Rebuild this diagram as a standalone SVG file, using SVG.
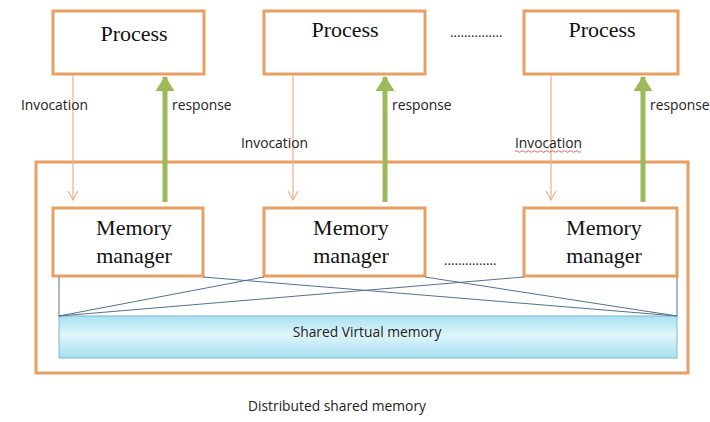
<svg xmlns="http://www.w3.org/2000/svg" width="710" height="422" viewBox="0 0 710 422">
<style>
.box{fill:#fff;stroke:#e7a063;stroke-width:3}
.outer{fill:none;stroke:#e7a063;stroke-width:3}
.tt{font-family:"Liberation Serif","Times New Roman",serif;font-size:22px;fill:#111;text-anchor:middle}
.lbl{font-family:"Open Sans","Liberation Sans",sans-serif;font-size:13.8px;fill:#222}
.inv{stroke:#eab08a;stroke-width:1.2;fill:none}
.resp{stroke:#9bbb59;stroke-width:5;fill:none}
.net{stroke:#56708e;stroke-width:1;fill:none}
.dots{font-family:"Liberation Serif",serif;font-size:14px;fill:#222}
</style>
<defs>
<marker id="open" markerWidth="12" markerHeight="12" refX="10" refY="6" orient="auto" markerUnits="userSpaceOnUse">
<path d="M1,1 L10,6 L1,11" fill="none" stroke="#eab08a" stroke-width="1.2"/>
</marker>
<marker id="fat" markerWidth="22" markerHeight="22" refX="14" refY="11" orient="auto" markerUnits="userSpaceOnUse">
<path d="M0,1.5 L15,11 L0,20.5 Z" fill="#9bbb59"/>
</marker>
<linearGradient id="sv" x1="0" y1="0" x2="0" y2="1">
<stop offset="0" stop-color="#a9e2f2"/>
<stop offset="0.45" stop-color="#def4fa"/>
<stop offset="1" stop-color="#a6dff0"/>
</linearGradient>
</defs>

<rect class="outer" x="36" y="162" width="652" height="211"/>

<g id="process1"><rect class="box" x="53" y="11" width="151" height="63"/><text class="tt" x="134" y="41">Process</text></g>
<g id="process2"><rect class="box" x="264" y="11" width="161" height="63"/><text class="tt" x="345" y="37">Process</text></g>
<g id="process3"><rect class="box" x="524" y="11" width="154" height="63"/><text class="tt" x="602" y="37">Process</text></g>
<text class="dots" x="450" y="37">...............</text>

<g id="mm1"><rect class="box" x="53" y="208" width="150" height="68"/><text class="tt" x="134" y="235">Memory</text><text class="tt" x="134" y="263">manager</text></g>
<g id="mm2"><rect class="box" x="264" y="208" width="161" height="68"/><text class="tt" x="351" y="235">Memory</text><text class="tt" x="351" y="263">manager</text></g>
<g id="mm3"><rect class="box" x="524" y="208" width="153" height="68"/><text class="tt" x="604" y="235">Memory</text><text class="tt" x="604" y="263">manager</text></g>
<text class="dots" x="444" y="265">...............</text>

<g id="shared"><rect x="59" y="316" width="618" height="42" fill="url(#sv)" stroke="#7fb8c8" stroke-width="1"/>
<text class="lbl" x="367" y="337" text-anchor="middle">Shared Virtual memory</text></g>

<g id="connectors">
<line class="inv" x1="73" y1="75" x2="73" y2="200" marker-end="url(#open)"/>
<line class="inv" x1="293" y1="75" x2="293" y2="200" marker-end="url(#open)"/>
<line class="inv" x1="551" y1="75" x2="551" y2="200" marker-end="url(#open)"/>
<line class="resp" x1="165" y1="202" x2="165" y2="77" marker-end="url(#fat)"/>
<line class="resp" x1="385" y1="202" x2="385" y2="77" marker-end="url(#fat)"/>
<line class="resp" x1="643" y1="202" x2="643" y2="77" marker-end="url(#fat)"/>
<line class="net" x1="59" y1="277" x2="59" y2="316"/>
<line class="net" x1="677" y1="277" x2="677" y2="316"/>
<line class="net" x1="203" y1="277" x2="677" y2="316"/>
<line class="net" x1="425" y1="277" x2="677" y2="316"/>
<line class="net" x1="264" y1="277" x2="59" y2="316"/>
<line class="net" x1="524" y1="277" x2="59" y2="316"/>
</g>

<text class="lbl" x="21" y="110">Invocation</text>
<text class="lbl" x="172" y="110">response</text>
<text class="lbl" x="241" y="148">Invocation</text>
<text class="lbl" x="392" y="110">response</text>
<text class="lbl" x="515" y="148">Invocation</text>
<path d="M515,151.5 q1.5,-1.5 3,0 t3,0 t3,0 t3,0 t3,0 t3,0 t3,0 t3,0 t3,0 t3,0 t3,0 t3,0 t3,0 t3,0 t3,0 t3,0 t3,0 t3,0 t3,0 t3,0 t3,0 t3,0" fill="none" stroke="#e04040" stroke-width="0.8"/>
<text class="lbl" x="650" y="110">response</text>

<text class="lbl" x="248" y="411" font-size="14.6">Distributed shared memory</text>
</svg>
